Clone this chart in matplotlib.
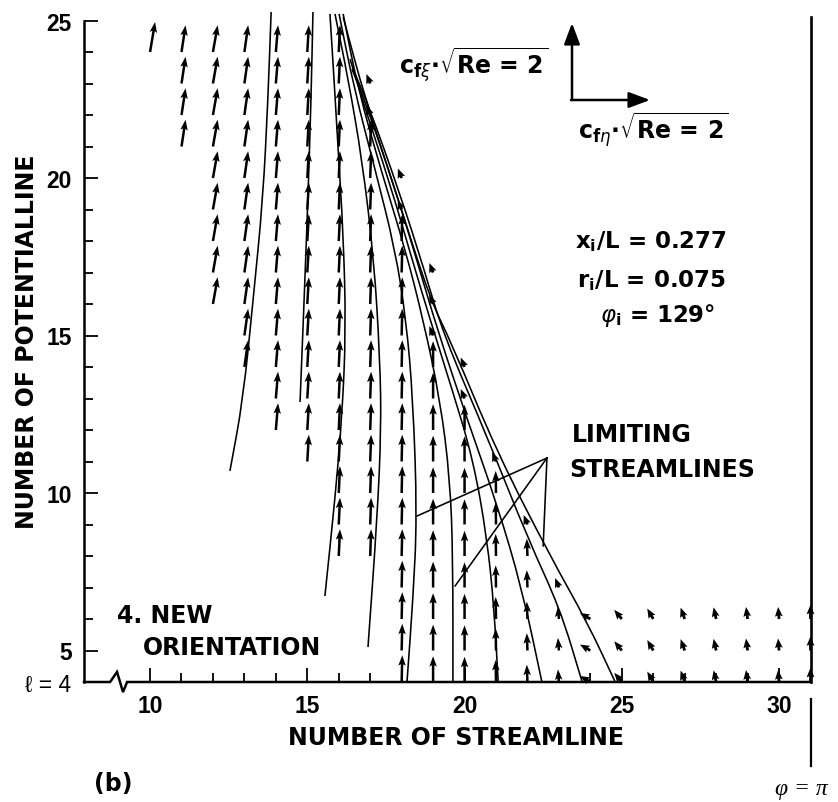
import numpy as np
import matplotlib
matplotlib.use("Agg")
import matplotlib.pyplot as plt
from matplotlib.path import Path
from matplotlib.patches import PathPatch

plt.rcParams['font.family'] = ['DejaVu Sans']
plt.rcParams['mathtext.fontset'] = 'dejavusans'

# ---------------- data (streamline number i, potential line number l) ----------------
# wall-shear-stress vector columns: tails at integer potential lines l_lo..l_hi
col_i = [10, 11, 12, 13, 14, 15, 16, 17, 18, 19, 20, 21, 22, 23]
col_lo = [24, 21, 16, 14, 12, 11, 8, 8, 4, 4, 4, 4, 4, 4]
col_hi = [24, 24, 24, 24, 24, 24, 24, 21, 18, 14, 12, 10, 8, 6]
col_u = [0.16, 0.13, 0.15, 0.12, 0.07, 0.05, 0.04, 0.03, 0.02, 0.0, 0.0, -0.01, -0.02, -0.03]
col_v = [0.95, 0.85, 0.85, 0.85, 0.85, 0.85, 0.85, 0.85, 0.85, 0.82, 0.80, 0.70, 0.55, 0.40]

# short vectors just beside the separation band
blob_i = [17, 17, 18, 18, 19, 19, 19, 20, 20, 21, 22, 23]
blob_l = [22, 23, 19, 20, 15, 16, 17, 13, 14, 11, 9, 7]
blob_u = -0.12
blob_v = 0.30

# new-orientation region (potential lines 4..6)
low_i = [24, 25, 26, 27, 28, 29, 30, 31]
low_l = [4, 5, 6]
low_u = [-0.33, -0.24, -0.19, -0.13, -0.08, -0.05, -0.03, 0.0]
low_v = [0.19, 0.29, 0.33, 0.36, 0.37, 0.38, 0.38, 0.45]

# streamlines (i, l)
curves = {
    'A': ([13.85, 13.75, 13.59, 13.28, 12.96, 12.54], [25.27, 22.51, 19.33, 16.16, 12.98, 10.70]),
    'B': ([15.18, 15.12, 15.02, 14.90, 14.77], [25.27, 22.51, 19.33, 16.16, 12.89]),
    'C': ([15.72, 15.85, 15.98, 16.14, 16.23, 16.10, 15.88, 15.56],
          [25.21, 23.14, 20.92, 18.29, 15.21, 12.35, 9.81, 6.73]),
    'D': ([15.88, 16.30, 16.74, 17.12, 17.31, 17.35, 17.22, 16.93],
          [25.21, 23.14, 20.60, 17.43, 14.25, 12.03, 9.17, 5.11]),
    'E': ([16.01, 16.49, 17.15, 17.79, 18.14, 18.36, 18.49, 18.36, 18.17],
          [25.21, 22.83, 20.29, 17.75, 15.52, 12.98, 9.27, 6.63, 4.0]),
    'F': ([16.14, 16.61, 17.38, 18.11, 18.68, 19.22, 19.54, 19.63, 19.63],
          [25.21, 22.83, 20.13, 17.75, 15.52, 12.98, 10.44, 7.90, 4.0]),
    'G': ([16.36, 16.74, 17.63, 18.33, 18.90, 19.60, 20.27, 20.72, 20.94, 21.07],
          [23.78, 22.51, 19.81, 17.43, 15.52, 13.30, 11.08, 8.54, 6.32, 4.0]),
    'H': ([16.42, 16.87, 17.79, 18.52, 19.13, 20.08, 21.03, 21.83, 22.46],
          [23.46, 22.35, 19.65, 17.27, 15.21, 12.35, 9.65, 6.95, 4.0]),
    'I': ([16.52, 16.93, 17.95, 18.71, 19.32, 20.75, 22.02, 23.04, 23.74],
          [23.30, 22.35, 19.49, 17.11, 15.05, 11.71, 8.54, 6.32, 4.0]),
    'J': ([16.14, 16.84, 17.89, 18.90, 19.60, 21.03, 22.72, 23.90, 24.79],
          [25.11, 22.51, 19.33, 16.16, 14.73, 11.30, 8.00, 5.90, 4.0]),
}

# pointer lines for the "LIMITING STREAMLINES" label
pointer_apex = (22.62, 11.11)
pointer_ends = [(18.49, 9.27), (19.70, 7.05), (22.50, 8.32)]

x_major = [10, 15, 20, 25, 30]
y_major = [4, 5, 10, 15, 20, 25]
y_major_labels = ['ℓ = 4', '5', '10', '15', '20', '25']

# ---------------- figure ----------------
W, H = 838, 803
fig = plt.figure(figsize=(W / 100, H / 100), dpi=100)
xl, xr, yt, yb = 84, 810.5, 21.5, 683
ax = fig.add_axes([xl / W, 1 - yb / H, (xr - xl) / W, (yb - yt) / H])
ax.set_xlim(7.9, 31)
ax.set_ylim(4, 25)

for s in ['top', 'right', 'bottom']:
    ax.spines[s].set_visible(False)
ax.spines['left'].set_linewidth(1.8)

ax.set_xticks(x_major)
ax.set_xticks([k for k in range(10, 31) if k not in x_major], minor=True)
ax.set_yticks(y_major)
ax.set_yticks([k for k in range(4, 26) if k not in y_major], minor=True)
ax.set_yticklabels(y_major_labels)
ax.tick_params(which='major', direction='in', length=10, width=1.3, pad=9)
ax.tick_params(which='minor', direction='in', length=6.5, width=1.3)
ax.tick_params(axis='y', which='both', right=False)
ax.tick_params(axis='x', which='both', top=False)
for lab in ax.get_xticklabels() + ax.get_yticklabels():
    lab.set_fontfamily(['Liberation Sans', 'DejaVu Sans'])
    lab.set_fontweight('bold')
    lab.set_fontsize(16.5)
ax.get_yticklabels()[0].set_fontweight('normal')

# bottom axis line with break
ax.plot([7.9, 8.73, 8.95, 9.14, 9.27, 31], [4, 4, 4.32, 3.68, 4, 4],
        color='black', lw=1.8, clip_on=False, solid_joinstyle='miter', zorder=4)
# symmetry line phi = pi
ax.plot([31, 31], [4, 25.1], color='black', lw=1.9, clip_on=False, zorder=4)
ax.plot([31, 31], [3.46, 1.33], color='black', lw=1.6, clip_on=False)

# ---------------- vectors ----------------
X, Y, U, V = [], [], [], []
for i, lo, hi, u, v in zip(col_i, col_lo, col_hi, col_u, col_v):
    for l in range(lo, hi + 1):
        X.append(i); Y.append(l); U.append(u); V.append(v)
ax.quiver(X, Y, U, V, angles='xy', scale_units='xy', scale=1, units='dots',
          width=2.5, headwidth=3.0, headlength=4.2, headaxislength=3.6,
          minshaft=0.3, minlength=0.3, color='black', pivot='tail',
          clip_on=False, zorder=3)

Xs, Ys, Us, Vs = [], [], [], []
for i, l in zip(blob_i, blob_l):
    Xs.append(i); Ys.append(l); Us.append(blob_u); Vs.append(blob_v)
for i, u, v in zip(low_i, low_u, low_v):
    for l in low_l:
        Xs.append(i); Ys.append(l); Us.append(u); Vs.append(v)
ax.quiver(Xs, Ys, Us, Vs, angles='xy', scale_units='xy', scale=1, units='dots',
          width=2.8, headwidth=2.8, headlength=3.4, headaxislength=3.0,
          minshaft=0.2, minlength=0.2, color='black', pivot='tail',
          clip_on=False, zorder=3)

# ---------------- streamlines ----------------
def smooth_path(xs, ys):
    pts = list(zip(xs, ys))
    verts = [pts[0]]
    codes = [Path.MOVETO]
    if len(pts) > 2:
        m = ((pts[0][0] + pts[1][0]) / 2, (pts[0][1] + pts[1][1]) / 2)
        verts.append(m); codes.append(Path.LINETO)
        for k in range(1, len(pts) - 1):
            m = ((pts[k][0] + pts[k + 1][0]) / 2, (pts[k][1] + pts[k + 1][1]) / 2)
            verts += [pts[k], m]
            codes += [Path.CURVE3, Path.CURVE3]
    verts.append(pts[-1]); codes.append(Path.LINETO)
    return Path(verts, codes)

for name, (xs, ys) in curves.items():
    ax.add_patch(PathPatch(smooth_path(xs, ys), facecolor='none', edgecolor='black',
                           lw=1.15, clip_on=False, zorder=2))

for ex, ey in pointer_ends:
    ax.plot([pointer_apex[0], ex], [pointer_apex[1], ey], color='black', lw=1.15)

# ---------------- texts ----------------
def ftext(px, py, s, **kw):
    fig.text(px / W, 1 - py / H, s, **kw)

bold = dict(fontweight='bold', fontsize=17)
ftext(27, 342, 'NUMBER OF POTENTIALLINE', rotation=90, ha='center', va='center', **bold)
ftext(456, 745, 'NUMBER OF STREAMLINE', ha='center', va='baseline', **bold)
ftext(572, 442, 'LIMITING', ha='left', va='baseline', **bold)
ftext(569, 477, 'STREAMLINES', ha='left', va='baseline', **bold)
ftext(117, 623, '4. NEW', ha='left', va='baseline', **bold)
ftext(143, 655, 'ORIENTATION', ha='left', va='baseline', **bold)
ftext(113, 784, '(b)', ha='center', va='center', **bold)
ftext(801, 790, 'φ = π', ha='center', va='center', fontsize=17,
      family=['Liberation Serif', 'DejaVu Serif'], style='italic')

ftext(548, 75, r'$\mathbf{c}_{\mathbf{f}\xi}\mathbf{\cdot}\sqrt{\mathbf{Re\,=\,2}}$',
      ha='right', va='baseline', fontsize=17)
ftext(578, 140, r'$\mathbf{c}_{\mathbf{f}\eta}\mathbf{\cdot}\sqrt{\mathbf{Re\,=\,2}}$',
      ha='left', va='baseline', fontsize=17)
ftext(575, 248, r'$\mathbf{x_i/L\,=\,0.277}$', ha='left', va='baseline', fontsize=16.5)
ftext(577, 287, r'$\mathbf{r_i/L\,=\,0.075}$', ha='left', va='baseline', fontsize=16.5)
ftext(600, 322, r'$\varphi_\mathbf{i}\mathbf{\,=\,129°}$', ha='left', va='baseline', fontsize=16.5)

# reference vector arrows
arr = dict(arrowstyle='-|>,head_length=0.8,head_width=0.3', color='black', lw=1.8,
           mutation_scale=16, shrinkA=0, shrinkB=0)
ax.annotate('', xy=(572, H - 24), xytext=(572, H - 101), xycoords='figure pixels',
            textcoords='figure pixels', arrowprops=arr)
ax.annotate('', xy=(650, H - 101), xytext=(571, H - 101), xycoords='figure pixels',
            textcoords='figure pixels', arrowprops=arr)

fig.savefig('out.png', dpi=100, facecolor='white')
